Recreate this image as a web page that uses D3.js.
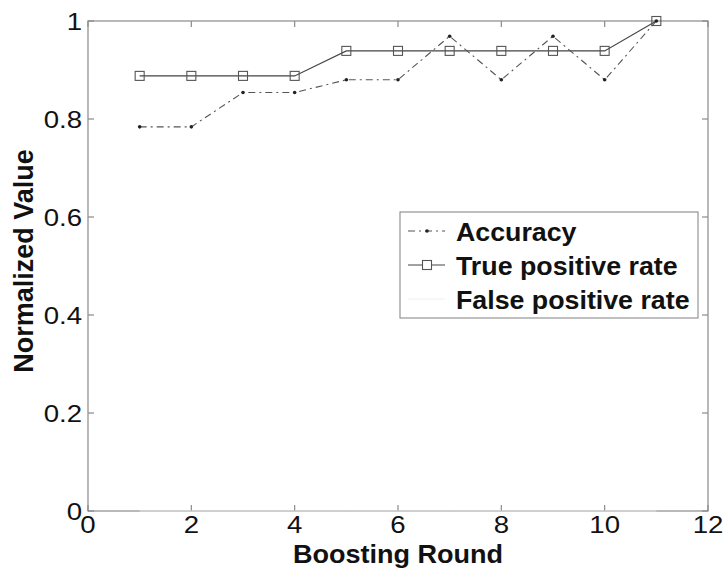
<!DOCTYPE html>
<html>
<head>
<meta charset="utf-8">
<script src="https://cdn.jsdelivr.net/npm/d3@7"></script>
<style>
  html, body { margin: 0; padding: 0; background: #fff; }
  svg { display: block; }
  text { font-family: "Liberation Sans", Arial, Helvetica, sans-serif; fill: #111; }
</style>
</head>
<body>
<svg id="chart" width="728" height="574"></svg>
<script>
// Boosting rounds on the x axis
const rounds = [1, 2, 3, 4, 5, 6, 7, 8, 9, 10, 11];
// Per-round metrics
const accuracy          = [0.784, 0.784, 0.854, 0.854, 0.880, 0.880, 0.969, 0.880, 0.969, 0.880, 1.0];
const truePositiveRate  = [0.888, 0.888, 0.888, 0.888, 0.939, 0.939, 0.939, 0.939, 0.939, 0.939, 1.0];
const falsePositiveRate = [0, 0, 0, 0, 0, 0, 0, 0, 0, 0, 0];
// Axis ticks
const xTicks = [0, 2, 4, 6, 8, 10, 12];
const yTicks = [0, 0.2, 0.4, 0.6, 0.8, 1];
const seriesNames = ["Accuracy", "True positive rate", "False positive rate"];

const svg = d3.select("#chart");
const x = d3.scaleLinear().domain([0, 12]).range([88, 708]);
const y = d3.scaleLinear().domain([0, 1]).range([511, 21]);

const axisColor = "#8a8a8a";
const tickLen = 6;

// Text helper with optional horizontal stretch and rotation
function stretchedText(g, tx, ty, str, opts) {
  return g.append("text")
    .attr("transform", `translate(${tx},${ty}) ${opts.rotate ? "rotate(" + opts.rotate + ")" : ""} scale(${opts.sx || 1},1)`)
    .attr("text-anchor", opts.anchor || "start")
    .style("font-size", opts.size + "px")
    .style("font-weight", opts.bold ? "bold" : "normal")
    .text(str);
}

// Box around the plot area
const [x0, x1] = x.range();
const [y0, y1] = y.range();
svg.append("rect")
  .attr("x", x0).attr("y", y1)
  .attr("width", x1 - x0).attr("height", y0 - y1)
  .attr("fill", "#fff").attr("stroke", axisColor).attr("stroke-width", 1.2);

// Inward ticks on all four sides
const tickG = svg.append("g").attr("stroke", axisColor).attr("stroke-width", 1.2);
xTicks.forEach(v => {
  tickG.append("line").attr("x1", x(v)).attr("x2", x(v)).attr("y1", y0).attr("y2", y0 - tickLen);
  tickG.append("line").attr("x1", x(v)).attr("x2", x(v)).attr("y1", y1).attr("y2", y1 + tickLen);
});
yTicks.forEach(v => {
  tickG.append("line").attr("x1", x0).attr("x2", x0 + tickLen).attr("y1", y(v)).attr("y2", y(v));
  tickG.append("line").attr("x1", x1).attr("x2", x1 - tickLen).attr("y1", y(v)).attr("y2", y(v));
});

// Tick labels
const labelG = svg.append("g");
xTicks.forEach(v => {
  stretchedText(labelG, x(v), 533, d3.format("d")(v), { size: 24, sx: 1.15, anchor: "middle" });
});
yTicks.forEach(v => {
  stretchedText(labelG, 82, y(v) + 9, v === 0 || v === 1 ? String(v) : d3.format(".1f")(v), { size: 24, sx: 1.15, anchor: "end" });
});

// Axis titles
stretchedText(svg, (x0 + x1) / 2, 563, "Boosting Round", { size: 26, bold: true, sx: 1.04, anchor: "middle" });
stretchedText(svg, 33, (y0 + y1) / 2 - 5, "Normalized Value", { size: 27, bold: true, anchor: "middle", rotate: -90 });

// Series lines
const line = d3.line().x((d, i) => x(rounds[i])).y(d => y(d));

svg.append("path").datum(falsePositiveRate)
  .attr("d", line).attr("fill", "none")
  .attr("stroke", "#e6e6e6").attr("stroke-width", 1);

svg.append("path").datum(truePositiveRate)
  .attr("d", line).attr("fill", "none")
  .attr("stroke", "#444").attr("stroke-width", 1.1);

svg.append("path").datum(accuracy)
  .attr("d", line).attr("fill", "none")
  .attr("stroke", "#555").attr("stroke-width", 1.1)
  .attr("stroke-dasharray", "7,4,2,4");

// Markers
svg.append("g").selectAll("rect").data(truePositiveRate).join("rect")
  .attr("x", (d, i) => x(rounds[i]) - 4.5).attr("y", d => y(d) - 4.5)
  .attr("width", 9).attr("height", 9)
  .attr("fill", "none").attr("stroke", "#555").attr("stroke-width", 1.1);

svg.append("g").selectAll("circle").data(accuracy).join("circle")
  .attr("cx", (d, i) => x(rounds[i])).attr("cy", d => y(d))
  .attr("r", 1.8).attr("fill", "#222");

// Legend
const lg = svg.append("g");
lg.append("rect").attr("x", 400).attr("y", 212).attr("width", 298).attr("height", 106)
  .attr("fill", "#fff").attr("stroke", axisColor).attr("stroke-width", 1.1);

const rowY = [231, 265, 299];
// Accuracy sample
lg.append("line").attr("x1", 408).attr("x2", 445).attr("y1", rowY[0]).attr("y2", rowY[0])
  .attr("stroke", "#555").attr("stroke-width", 1.1).attr("stroke-dasharray", "7,4,2,4");
lg.append("circle").attr("cx", 427).attr("cy", rowY[0]).attr("r", 1.8).attr("fill", "#222");
// True positive rate sample
lg.append("line").attr("x1", 408).attr("x2", 445).attr("y1", rowY[1]).attr("y2", rowY[1])
  .attr("stroke", "#444").attr("stroke-width", 1.1);
lg.append("rect").attr("x", 427 - 4.5).attr("y", rowY[1] - 4.5).attr("width", 9).attr("height", 9)
  .attr("fill", "#fff").attr("stroke", "#555").attr("stroke-width", 1.1);
// False positive rate sample
lg.append("line").attr("x1", 408).attr("x2", 445).attr("y1", rowY[2]).attr("y2", rowY[2])
  .attr("stroke", "#f0f0f0").attr("stroke-width", 1);

seriesNames.forEach((name, i) => {
  stretchedText(lg, 456, rowY[i] + 9.5, name, { size: 26, bold: true, sx: 1.03 });
});
</script>
</body>
</html>
